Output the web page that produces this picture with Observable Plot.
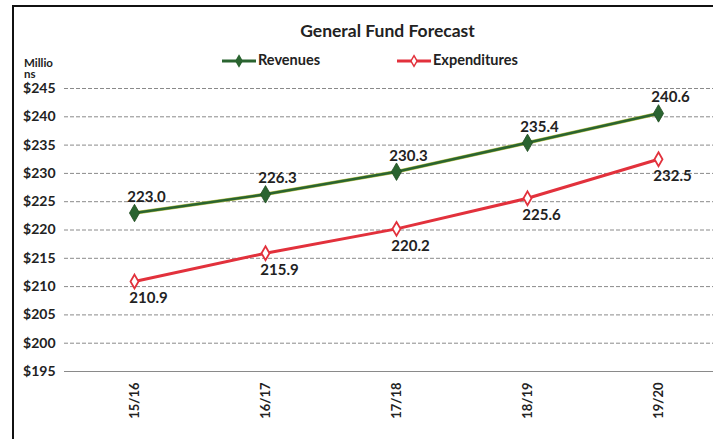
<!DOCTYPE html>
<html><head><meta charset="utf-8">
<script src="https://cdn.jsdelivr.net/npm/d3@7"></script>
<script src="https://cdn.jsdelivr.net/npm/@observablehq/plot@0.6"></script>
<style>
body{margin:0;background:#fff;font-family:Lato,"Open Sans",sans-serif;}
#wrap{position:relative;width:713px;height:439px;overflow:hidden;background:#fff;}
#frame{position:absolute;left:12px;top:5px;width:760px;height:500px;border-left:2px solid #111;border-top:2px solid #111;}
#title{position:absolute;left:0;width:775px;top:20px;text-align:center;font-weight:bold;font-size:17.5px;color:#222;}
.leg{position:absolute;top:51px;font-weight:bold;font-size:14.5px;color:#222;}
#units{position:absolute;left:24px;top:57px;width:40px;font-weight:bold;font-size:11.5px;line-height:11px;color:#222;white-space:pre-line;}
#chart{position:absolute;left:0;top:0;}
</style></head>
<body><div id="wrap">
<div id="frame"></div>
<div id="chart"></div>
<div id="title">General Fund Forecast</div>
<div id="units">Millio
ns</div>
<div id="legend"></div>
</div>
<script>
const years = ["15/16","16/17","17/18","18/19","19/20"];
const revenues = [223.0, 226.3, 230.3, 235.4, 240.6];
const expenditures = [210.9, 215.9, 220.2, 225.6, 232.5];
const yTicks = [195,200,205,210,215,220,225,230,235,240,245];
const seriesNames = ["Revenues","Expenditures"];
const green = "#2a6430", red = "#e2313c";

const rev = years.map((y,i)=>({year:y, value:revenues[i]}));
const exp = years.map((y,i)=>({year:y, value:expenditures[i]}));
const font = "Lato, 'Open Sans', sans-serif";

const plot = Plot.plot({
  width: 713, height: 439,
  marginLeft: 64, marginRight: 0, marginTop: 88, marginBottom: 68,
  style: {fontFamily: font, background: "transparent", color: "#222"},
  x: {type: "point", domain: years, range: [134, 658], padding: 0, label: null},
  y: {domain: [195, 245], label: null},
  marks: [
    Plot.ruleY(yTicks.slice(1), {stroke: "#8a8a8a", strokeDasharray: "4,2", strokeWidth: 1}),
    Plot.ruleY([195], {stroke: "#8a8a8a", strokeWidth: 1.2}),
    Plot.ruleX([0], {x: () => 68, stroke: "#ddd", strokeDasharray: "2,2"}),
    Plot.axisY({ticks: yTicks, tickFormat: d => "$" + d, tickSize: 0, tickPadding: 9, fontSize: 14, fontWeight: "bold", label: null}),
    Plot.axisX({tickSize: 0, tickRotate: -90, tickPadding: 11, fontSize: 13, fontWeight: "bold", label: null}),
    Plot.line(rev, {x: "year", y: "value", stroke: "#b9c24a", strokeWidth: 3.6}),
    Plot.line(rev, {x: "year", y: "value", stroke: green, strokeWidth: 2.6}),
    Plot.line(exp, {x: "year", y: "value", stroke: red, strokeWidth: 3}),
    Plot.dot(rev, {x: "year", y: "value", symbol: "diamond", r: 5.3, fill: green, stroke: "#1f4d1f", strokeWidth: 0.8}),
    Plot.dot(exp, {x: "year", y: "value", symbol: "diamond", r: 4.2, fill: "white", stroke: red, strokeWidth: 1.8}),
    Plot.text(rev, {x: "year", y: "value", text: d => d.value.toFixed(1), dx: 12, dy: -16, fontSize: 15, fontWeight: "bold", fill: "#222"}),
    Plot.text(exp, {x: "year", y: "value", text: d => d.value.toFixed(1), dx: 14, dy: 17, fontSize: 15, fontWeight: "bold", fill: "#222"})
  ]
});
document.getElementById("chart").appendChild(plot);

// legend built from the series names
const legend = document.getElementById("legend");
const legItems = [
  {name: seriesNames[0], color: green, fill: green, x: 222},
  {name: seriesNames[1], color: red, fill: "white", x: 397}
];
legItems.forEach(it => {
  const svg = d3.create("svg").attr("width", 36).attr("height", 14)
    .style("position","absolute").style("left", it.x + "px").style("top", "54px");
  svg.append("line").attr("x1",0).attr("x2",34).attr("y1",7).attr("y2",7).attr("stroke", it.color).attr("stroke-width",3);
  svg.append("path").attr("d", d3.symbol(d3.symbolDiamond, 32)()).attr("transform","translate(17,7)")
    .attr("fill", it.fill).attr("stroke", it.color).attr("stroke-width",1.5);
  legend.appendChild(svg.node());
  const t = document.createElement("div");
  t.className = "leg"; t.style.left = (it.x + 36) + "px"; t.textContent = it.name;
  legend.appendChild(t);
});
</script>
</body></html>
